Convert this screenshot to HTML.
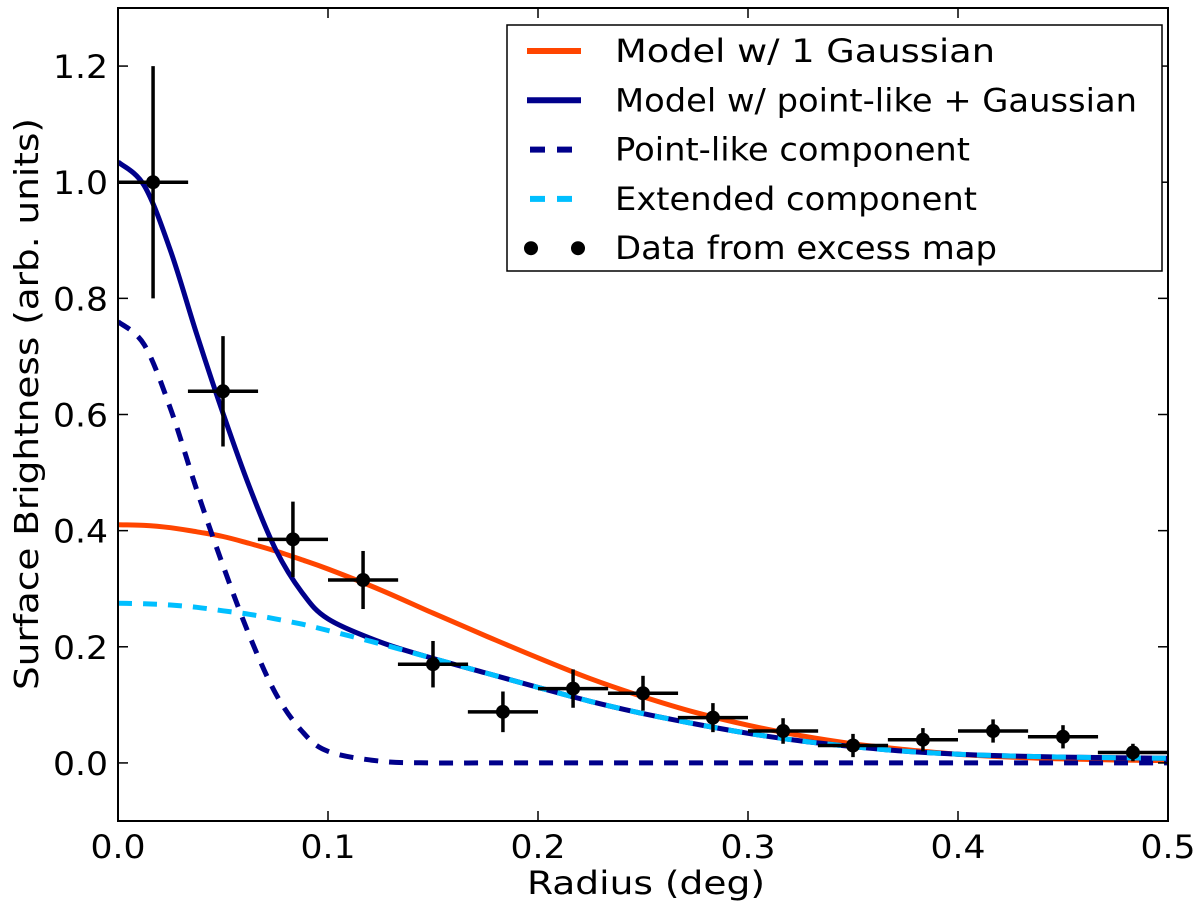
<!DOCTYPE html>
<html><head><meta charset="utf-8"><style>
body{margin:0;background:#fff}
svg text{font-family:"DejaVu Sans","Liberation Sans",sans-serif;fill:#000}
</style></head><body>
<svg id="chart" width="1200" height="907" viewBox="0 0 1200 907" xmlns="http://www.w3.org/2000/svg">
<g id="plot"></g>
</svg>
<script>
const curveX=[0,0.0125,0.025,0.0375,0.05,0.0625,0.075,0.0875,0.1,0.125,0.15,0.175,0.2,0.225,0.25,0.275,0.3,0.325,0.35,0.375,0.4,0.425,0.45,0.475,0.5];
const oneGauss=[0.410,0.409,0.405,0.398,0.390,0.378,0.365,0.350,0.334,0.298,0.258,0.219,0.181,0.145,0.114,0.087,0.065,0.047,0.033,0.023,0.015,0.010,0.007,0.005,0.004];
const pointLike=[0.760,0.720,0.610,0.470,0.340,0.220,0.120,0.055,0.020,0.003,0,0,0,0,0,0,0,0,0,0,0,0,0,0,0];
const extended=[0.275,0.274,0.272,0.268,0.262,0.256,0.248,0.239,0.228,0.205,0.180,0.155,0.130,0.106,0.085,0.067,0.051,0.038,0.028,0.020,0.015,0.012,0.010,0.009,0.008];
const combined=[1.035,0.994,0.882,0.738,0.602,0.476,0.368,0.294,0.248,0.208,0.180,0.155,0.130,0.106,0.085,0.067,0.051,0.038,0.028,0.020,0.015,0.012,0.010,0.009,0.008];
const dataX=[0.0167,0.05,0.0833,0.1167,0.15,0.1833,0.2167,0.25,0.2833,0.3167,0.35,0.3833,0.4167,0.45,0.4833];
const dataY=[1.0,0.64,0.385,0.315,0.17,0.088,0.128,0.12,0.078,0.055,0.03,0.04,0.055,0.045,0.018];
const dataYErr=[0.2,0.095,0.065,0.05,0.04,0.035,0.033,0.03,0.025,0.022,0.02,0.02,0.02,0.02,0.015];
const dataXErr=0.0167;
const xTicks=[0,0.1,0.2,0.3,0.4,0.5];
const xTickLabels=["0.0","0.1","0.2","0.3","0.4","0.5"];
const yTicks=[0,0.2,0.4,0.6,0.8,1.0,1.2];
const yTickLabels=["0.0","0.2","0.4","0.6","0.8","1.0","1.2"];

const L=118,R=1168,T=8,B=821;
const X=v=>L+(v-0)/0.5*(R-L);
const Y=v=>B-(v+0.1)/1.4*(B-T);
const NS='http://www.w3.org/2000/svg';
const g=document.getElementById('plot');
function mk(tag,attrs,parent){const e=document.createElementNS(NS,tag);for(const k in attrs)e.setAttribute(k,attrs[k]);(parent||g).appendChild(e);return e;}

const clip=mk('clipPath',{id:'clp'});mk('rect',{x:L,y:T,width:R-L,height:B-T},clip);

function curve(ys,color,dash,name){
  const P=curveX.map((x,i)=>[X(x),Y(ys[i])]);
  let d='M'+P[0][0].toFixed(1)+','+P[0][1].toFixed(1);
  for(let i=0;i<P.length-1;i++){
    const p0=P[Math.max(0,i-1)],p1=P[i],p2=P[i+1],p3=P[Math.min(P.length-1,i+2)];
    const c1=[p1[0]+(p2[0]-p0[0])/6,p1[1]+(p2[1]-p0[1])/6];
    const c2=[p2[0]-(p3[0]-p1[0])/6,p2[1]-(p3[1]-p1[1])/6];
    d+='C'+c1[0].toFixed(1)+','+c1[1].toFixed(1)+' '+c2[0].toFixed(1)+','+c2[1].toFixed(1)+' '+p2[0].toFixed(1)+','+p2[1].toFixed(1);
  }
  const p=mk('path',{d:d,fill:'none',stroke:color,'stroke-width':5,'clip-path':'url(#clp)','stroke-linejoin':'round'});
  if(dash)p.setAttribute('stroke-dasharray',dash);
  
  
}
curve(oneGauss,'#ff4500',null,'model-one-gaussian-line');
curve(combined,'#00008b',null,'model-point-gaussian-line');
curve(pointLike,'#00008b','14 11','point-like-component-line');
curve(extended,'#00bfff','14 11','extended-component-line');

dataX.forEach((x,i)=>{
  const grp=mk('g',{});
  
  
  mk('line',{x1:X(x-dataXErr),x2:X(x+dataXErr),y1:Y(dataY[i]),y2:Y(dataY[i]),stroke:'#000','stroke-width':3.5},grp);
  mk('line',{x1:X(x),x2:X(x),y1:Y(dataY[i]-dataYErr[i]),y2:Y(dataY[i]+dataYErr[i]),stroke:'#000','stroke-width':3.5},grp);
  mk('circle',{cx:X(x),cy:Y(dataY[i]),r:7,fill:'#000'},grp);
});

const frame=mk('rect',{x:L,y:T,width:R-L,height:B-T,fill:'none',stroke:'#000','stroke-width':2});



xTicks.forEach((t,i)=>{
  mk('line',{x1:X(t),x2:X(t),y1:B,y2:B-10,stroke:'#000','stroke-width':1.5});
  mk('line',{x1:X(t),x2:X(t),y1:T,y2:T+10,stroke:'#000','stroke-width':1.5});
  const tx=mk('text',{x:X(t),y:B+37,'font-size':32,'text-anchor':'middle',textLength:55,lengthAdjust:'spacingAndGlyphs'});
  tx.textContent=xTickLabels[i];
  
  
});
yTicks.forEach((t,i)=>{
  mk('line',{x1:L,x2:L+10,y1:Y(t),y2:Y(t),stroke:'#000','stroke-width':1.5});
  mk('line',{x1:R,x2:R-10,y1:Y(t),y2:Y(t),stroke:'#000','stroke-width':1.5});
  const tx=mk('text',{x:L-10,y:Y(t)+12,'font-size':32,'text-anchor':'end',textLength:55,lengthAdjust:'spacingAndGlyphs'});
  tx.textContent=yTickLabels[i];
  
  
});
const xl=mk('text',{x:646,y:894,'font-size':32,'text-anchor':'middle',textLength:238,lengthAdjust:'spacingAndGlyphs'});xl.textContent='Radius (deg)';


const yl=mk('text',{x:0,y:0,'font-size':33,'text-anchor':'middle',textLength:572,lengthAdjust:'spacingAndGlyphs',transform:'translate(38,404) rotate(-90)'});yl.textContent='Surface Brightness (arb. units)';



// legend
const lg=mk('g',{});


mk('rect',{x:507,y:25,width:655,height:246,fill:'#fff',stroke:'#000','stroke-width':1.5},lg);
const entries=[['Model w/ 1 Gaussian','#ff4500','solid',380],['Model w/ point-like + Gaussian','#00008b','solid',522],['Point-like component','#00008b','dash',355],['Extended component','#00bfff','dash',362],['Data from excess map','#000','dot',382]];
entries.forEach((e,i)=>{
  const y=51+i*49.3;
  const eg=mk('g',{},lg);
  
  
  if(e[2]==='solid')mk('line',{x1:527,x2:581,y1:y,y2:y,stroke:e[1],'stroke-width':6},eg);
  else if(e[2]==='dash'){mk('line',{x1:530,x2:545,y1:y,y2:y,stroke:e[1],'stroke-width':6},eg);mk('line',{x1:557,x2:572,y1:y,y2:y,stroke:e[1],'stroke-width':6},eg);}
  else{mk('circle',{cx:531,cy:y,r:7,fill:'#000'},eg);mk('circle',{cx:578,cy:y,r:7,fill:'#000'},eg);}
  const t=mk('text',{x:615,y:y+11,'font-size':32,textLength:e[3],lengthAdjust:'spacingAndGlyphs'},eg);t.textContent=e[0];
});
</script>
</body></html>
